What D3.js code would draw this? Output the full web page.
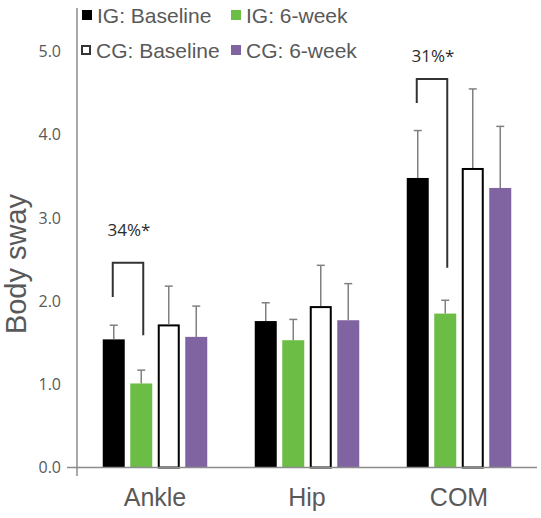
<!DOCTYPE html>
<html>
<head>
<meta charset="utf-8">
<script src="https://cdn.jsdelivr.net/npm/d3@7"></script>
<style>
  html, body { margin: 0; padding: 0; background: #fff; }
  svg { display: block; }
</style>
</head>
<body>
<svg id="chart" width="541" height="518"></svg>
<script>
const categories = ["Ankle", "Hip", "COM"];
const seriesNames = ["IG: Baseline", "IG: 6-week", "CG: Baseline", "CG: 6-week"];
const igBaseline = [1.54, 1.76, 3.48];
const ig6week   = [1.01, 1.53, 1.85];
const cgBaseline = [1.72, 1.94, 3.60];
const cg6week   = [1.57, 1.77, 3.36];
const igBaselineErr = [0.17, 0.22, 0.57];
const ig6weekErr   = [0.16, 0.25, 0.16];
const cgBaselineErr = [0.46, 0.49, 0.95];
const cg6weekErr   = [0.37, 0.44, 0.74];
const yTicks = [0, 1, 2, 3, 4, 5];
const yTickLabels = ["0.0", "1.0", "2.0", "3.0", "4.0", "5.0"];
// significance annotations: category, label, bracket top, left foot, right foot, label y
const sigCategory = ["Ankle", "COM"];
const sigLabel = ["34%*", "31%*"];
const sigTop = [2.46, 4.67];
const sigLeftFoot = [2.05, 4.38];
const sigRightFoot = [1.59, 2.40];
const sigLabelY = [2.85, 4.95];

const values = [igBaseline, ig6week, cgBaseline, cg6week];
const errors = [igBaselineErr, ig6weekErr, cgBaselineErr, cg6weekErr];
const fills = ["#000000", "#6cbd45", "#ffffff", "#8064a2"];
const strokes = ["none", "none", "#000000", "none"];

const svg = d3.select("#chart");
const y = d3.scaleLinear().domain([0, 5]).range([467.5, 51.5]);
const x = d3.scaleBand().domain(categories).range([79, 535]).padding(0);
const xi = d3.scaleBand().domain(seriesNames).range([-52.25, 52.25]).paddingInner(0.2).paddingOuter(0);

const axisColor = "#8c8c8c";
const textColor = "#595959";

// bars
const g = svg.append("g");
seriesNames.forEach((s, si) => {
  categories.forEach((c, ci) => {
    const cx = x(c) + x.bandwidth() / 2 + xi(s);
    const v = values[si][ci];
    const sw = strokes[si] === "none" ? 0 : 2;
    g.append("rect")
      .attr("x", cx + sw / 2)
      .attr("y", y(v) + sw / 2)
      .attr("width", xi.bandwidth() - sw)
      .attr("height", y(0) - y(v) - sw / 2)
      .attr("fill", fills[si])
      .attr("stroke", strokes[si])
      .attr("stroke-width", sw);
  });
});

// error bars
seriesNames.forEach((s, si) => {
  categories.forEach((c, ci) => {
    const mx = x(c) + x.bandwidth() / 2 + xi(s) + xi.bandwidth() / 2;
    const v = values[si][ci];
    const top = v + errors[si][ci];
    g.append("line").attr("x1", mx).attr("x2", mx)
      .attr("y1", y(v)).attr("y2", y(top))
      .attr("stroke", "#808080").attr("stroke-width", 1.5);
    g.append("line").attr("x1", mx - 4).attr("x2", mx + 4)
      .attr("y1", y(top)).attr("y2", y(top))
      .attr("stroke", "#808080").attr("stroke-width", 1.5);
  });
});

// axes
const yAxis = d3.axisLeft(y).tickValues(yTicks).tickFormat((d, i) => yTickLabels[i]).tickSize(0).tickPadding(16);
const ya = svg.append("g").attr("transform", "translate(77,0)").call(yAxis);
ya.select(".domain").remove();
ya.selectAll("text").attr("font-family", "'Open Sans', sans-serif").attr("font-size", 16).attr("fill", textColor);
svg.append("line").attr("x1", 77).attr("x2", 77).attr("y1", 8).attr("y2", 476)
  .attr("stroke", axisColor).attr("stroke-width", 1.5);
svg.append("line").attr("x1", 67).attr("x2", 537).attr("y1", y(0)).attr("y2", y(0))
  .attr("stroke", axisColor).attr("stroke-width", 1.5);

const xAxis = d3.axisBottom(x).tickSize(0).tickPadding(21);
const xa = svg.append("g").attr("transform", `translate(0,${y(0)})`).call(xAxis);
xa.select(".domain").remove();
xa.selectAll("text").attr("font-family", "'Liberation Sans', Arial, sans-serif").attr("font-size", 25).attr("fill", textColor);

// y axis title
svg.append("text")
  .attr("transform", "translate(26,264) rotate(-90)")
  .attr("text-anchor", "middle")
  .attr("font-family", "'Liberation Sans', Arial, sans-serif")
  .attr("font-size", 29)
  .attr("fill", textColor)
  .text("Body sway");

// significance brackets
sigCategory.forEach((c, i) => {
  const base = x(c) + x.bandwidth() / 2;
  const lx = base + xi(seriesNames[0]) + xi.bandwidth() / 2 - 1;
  const rx = base + xi(seriesNames[1]) + xi.bandwidth() / 2 + 2;
  svg.append("path")
    .attr("d", `M${lx},${y(sigLeftFoot[i])}V${y(sigTop[i])}H${rx}V${y(sigRightFoot[i])}`)
    .attr("fill", "none").attr("stroke", "#333").attr("stroke-width", 2);
  svg.append("text")
    .attr("x", (lx + rx) / 2 + 1)
    .attr("y", y(sigLabelY[i]))
    .attr("dy", "0.35em")
    .attr("text-anchor", "middle")
    .attr("font-family", "'Open Sans', sans-serif")
    .attr("font-size", 17)
    .attr("fill", "#2b2b2b")
    .text(sigLabel[i]);
});

// legend
const legendPos = [[82, 15], [231, 15], [81, 50], [231, 50]];
seriesNames.forEach((s, i) => {
  const [lx, ly] = legendPos[i];
  const sw = strokes[i] === "none" ? 0 : 2;
  svg.append("rect")
    .attr("x", lx + sw / 2).attr("y", ly - 5 + sw / 2)
    .attr("width", 10 - sw).attr("height", 10 - sw)
    .attr("fill", fills[i]).attr("stroke", strokes[i] === "none" ? "none" : "#333")
    .attr("stroke-width", sw);
  svg.append("text")
    .attr("x", lx + 15).attr("y", ly).attr("dy", "0.36em")
    .attr("font-family", "'Liberation Sans', Arial, sans-serif")
    .attr("font-size", 21)
    .attr("fill", textColor)
    .text(s);
});
</script>
</body>
</html>
